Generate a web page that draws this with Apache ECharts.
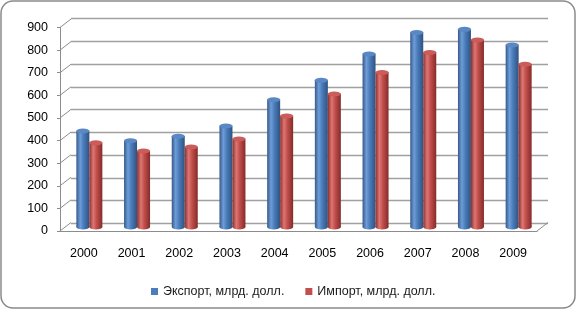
<!DOCTYPE html>
<html>
<head>
<meta charset="utf-8">
<script src="https://cdn.jsdelivr.net/npm/echarts@6/dist/echarts.min.js"></script>
<style>
  html, body { margin: 0; padding: 0; background: #fff; }
  #chart { width: 577px; height: 310px; }
</style>
</head>
<body>
<div id="chart"></div>
<script>
(function() {
  var years = ['2000', '2001', '2002', '2003', '2004', '2005', '2006', '2007', '2008', '2009'];
  var exportValues = [423, 380, 400, 445, 561, 646, 762, 856, 870, 801];
  var importValues = [371, 335, 353, 388, 489, 586, 680, 768, 823, 717];
  var yTicks = [0, 100, 200, 300, 400, 500, 600, 700, 800, 900];
  var exportName = 'Экспорт, млрд. долл.';
  var importName = 'Импорт, млрд. долл.';

  var font = 'Liberation Sans, Arial, sans-serif';
  var lineGray = '#8c8c8c';

  function cylinder(edge, main, light, right) {
    return new echarts.graphic.LinearGradient(0, 0, 1, 0, [
      { offset: 0, color: edge },
      { offset: 0.3, color: light },
      { offset: 0.55, color: main },
      { offset: 1, color: right }
    ]);
  }

  var blueFill = cylinder('#36598a', '#4a7dbb', '#6e9dd8', '#30527f');
  var redFill = cylinder('#8e2f2d', '#c24f4c', '#dc7774', '#842b29');

  // diagonal links from front axis to back wall
  function renderDepth(params, api) {
    var v = api.value(1);
    var p = api.coord([0, v]);
    var bw = api.size([1, 0])[0];
    var x0 = p[0] - bw / 2;
    var children = [{
      type: 'line',
      shape: { x1: x0, y1: p[1], x2: x0 + 11, y2: p[1] - 8.5 },
      style: { stroke: lineGray, lineWidth: 1 }
    }];
    if (v === 0) {
      var q = api.coord([years.length - 1, 0]);
      var x1 = q[0] + bw / 2;
      children.push({
        type: 'line',
        shape: { x1: x1, y1: q[1], x2: x1 + 11, y2: q[1] - 8.5 },
        style: { stroke: lineGray, lineWidth: 1 }
      });
    }
    return { type: 'group', children: children };
  }

  var chart = echarts.init(document.getElementById('chart'));
  chart.setOption({
    animation: false,
    backgroundColor: '#fff',
    graphic: [{
      type: 'rect',
      shape: { x: 1, y: 1, width: 574, height: 307, r: 12 },
      style: { fill: 'none', stroke: '#8a8a8a', lineWidth: 1.5 },
      silent: true
    }],
    legend: {
      left: 146,
      top: 280,
      itemWidth: 7,
      itemHeight: 7,
      itemGap: 21,
      icon: 'rect',
      data: [
        { name: exportName, itemStyle: { color: '#4a7dbb' } },
        { name: importName, itemStyle: { color: '#c24f4c' } }
      ],
      textStyle: { fontFamily: font, fontSize: 12.5, color: '#1a1a1a' }
    },
    grid: [
      { left: 71, right: 29, top: 18.6, bottom: 86.7 },
      { left: 60, right: 40, top: 27.5, bottom: 79 },
      { left: 65.5, right: 34.5, top: 22.3, bottom: 83 }
    ],
    xAxis: [
      { gridIndex: 0, type: 'category', data: years, show: false },
      {
        gridIndex: 1, type: 'category', data: years,
        axisLine: { lineStyle: { color: lineGray } },
        axisTick: { length: 5, lineStyle: { color: lineGray } },
        axisLabel: { margin: 16, fontFamily: font, fontSize: 12.5, color: '#000' }
      },
      { gridIndex: 2, type: 'category', data: years, show: false }
    ],
    yAxis: [
      {
        gridIndex: 0, type: 'value', min: 0, max: 900, interval: 100,
        axisLine: { show: false }, axisTick: { show: false }, axisLabel: { show: false },
        splitLine: { lineStyle: { color: '#a0a0a0', width: 1.3 } }
      },
      {
        gridIndex: 1, type: 'value', min: 0, max: 900, interval: 100,
        axisLine: { show: true, lineStyle: { color: lineGray } },
        axisTick: { show: true, length: 3, lineStyle: { color: lineGray } },
        axisLabel: { margin: 12, fontFamily: font, fontSize: 12.5, color: '#000' },
        splitLine: { show: false }
      },
      { gridIndex: 2, type: 'value', min: 0, max: 900, show: false, splitLine: { show: false } }
    ],
    series: [
      {
        type: 'custom', xAxisIndex: 1, yAxisIndex: 1, silent: true,
        data: yTicks.map(function(v) { return [0, v]; }),
        renderItem: renderDepth
      },
      {
        name: exportName, type: 'bar', xAxisIndex: 2, yAxisIndex: 2,
        barWidth: 13, barGap: '0%', data: exportValues,
        itemStyle: { color: blueFill }
      },
      {
        name: importName, type: 'bar', xAxisIndex: 2, yAxisIndex: 2,
        barWidth: 13, barGap: '0%', data: importValues,
        itemStyle: { color: redFill }
      },
      {
        type: 'pictorialBar', xAxisIndex: 2, yAxisIndex: 2, silent: true,
        symbol: 'circle', symbolSize: [13, 5], symbolPosition: 'start',
        symbolOffset: ['-50%', '50%'], data: exportValues,
        itemStyle: { color: blueFill }, z: 1
      },
      {
        type: 'pictorialBar', xAxisIndex: 2, yAxisIndex: 2, silent: true,
        symbol: 'circle', symbolSize: [13, 5], symbolPosition: 'start',
        symbolOffset: ['50%', '50%'], data: importValues,
        itemStyle: { color: redFill }, z: 1
      },
      {
        type: 'pictorialBar', xAxisIndex: 2, yAxisIndex: 2, silent: true,
        symbol: 'circle', symbolSize: [13, 5], symbolPosition: 'end',
        symbolOffset: ['-50%', '-50%'], data: exportValues,
        itemStyle: { color: '#5a88c4', borderColor: '#2f5580', borderWidth: 0.8 }, z: 3
      },
      {
        type: 'pictorialBar', xAxisIndex: 2, yAxisIndex: 2, silent: true,
        symbol: 'circle', symbolSize: [13, 5], symbolPosition: 'end',
        symbolOffset: ['50%', '-50%'], data: importValues,
        itemStyle: { color: '#cc5c59', borderColor: '#7f2a28', borderWidth: 0.8 }, z: 3
      }
    ]
  });
})();
</script>
</body>
</html>
